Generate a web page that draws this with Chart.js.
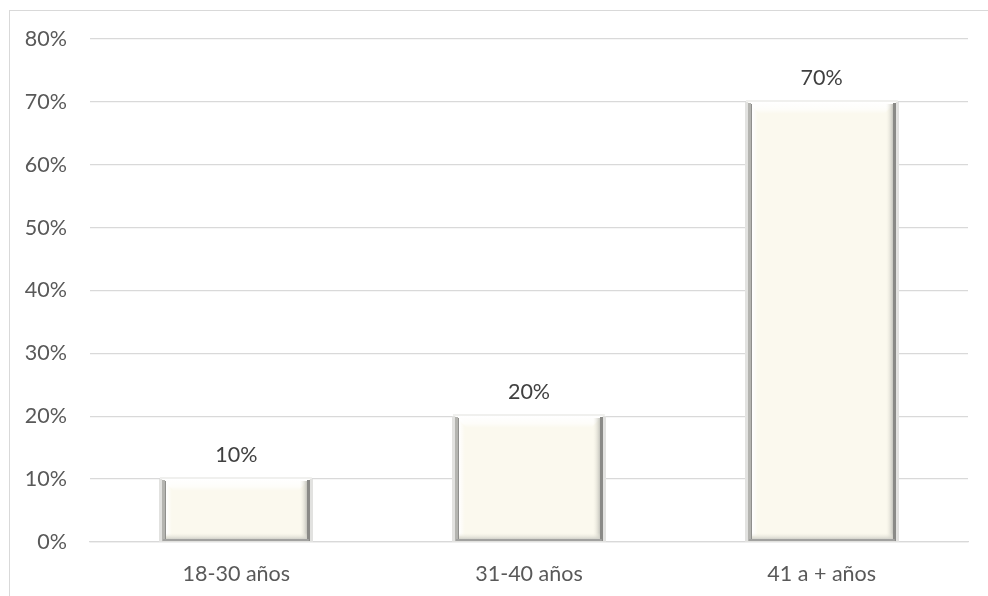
<!DOCTYPE html>
<html lang="es">
<head>
<meta charset="UTF-8">
<title>Edad</title>
<script src="https://cdn.jsdelivr.net/npm/chart.js@4/dist/chart.umd.min.js"></script>
<style>
    html, body { margin: 0; padding: 0; background: #fff; }
    .frame { position: absolute; left: 9px; top: 10px; width: 990px; height: 600px; border: 1px solid #d9d9d9; }
    #wrap { position: absolute; left: 0; top: 0; width: 988px; height: 596px; }
</style>
</head>
<body>
<div class="frame"></div>
<div id="wrap"><canvas id="chart" width="988" height="596"></canvas></div>
<script>
// data
const categories = ['18-30 años', '31-40 años', '41 a + años'];
const values = [10, 20, 70];
const yMax = 80;
const yStep = 10;

const FONT = "Lato, 'Open Sans', sans-serif";
const FSIZE = 21.5;

// bevel look for the bars (drawn on top of each bar element)
const bevelPlugin = {
    id: 'bevel',
    afterDatasetsDraw(chart) {
        const ctx = chart.ctx;
        chart.getDatasetMeta(0).data.forEach(bar => {
            const w = bar.width;
            const l = Math.round(bar.x - w / 2), r = Math.round(bar.x + w / 2);
            const t = Math.round(bar.y), b = Math.round(bar.base);
            const h = b - t;
            ctx.save();
            // outer soft shadow
            ctx.fillStyle = '#e2e2e0';
            ctx.fillRect(l - 3, t, 3, h + 1);
            ctx.fillRect(r, t, 3, h + 1);
            ctx.fillStyle = '#f0f0ee';
            ctx.fillRect(l - 2, t - 2, w + 4, 2);
            // top highlight
            let g = ctx.createLinearGradient(0, t, 0, t + 12);
            g.addColorStop(0, '#ffffff');
            g.addColorStop(0.6, 'rgba(255,255,255,0.7)');
            g.addColorStop(1, 'rgba(255,255,255,0)');
            ctx.fillStyle = g;
            ctx.beginPath();
            ctx.moveTo(l, t); ctx.lineTo(r, t);
            ctx.lineTo(r - 12, t + 12); ctx.lineTo(l + 12, t + 12);
            ctx.closePath(); ctx.fill();
            // left edge: gray line + white strip
            ctx.fillStyle = '#b4b4b0';
            ctx.fillRect(l, t + 1, 3, h - 1);
            ctx.fillStyle = '#8f8f8c';
            ctx.fillRect(l + 3, t + 2, 1, h - 3);
            g = ctx.createLinearGradient(l + 4, 0, l + 10, 0);
            g.addColorStop(0, '#ffffff');
            g.addColorStop(1, 'rgba(255,255,255,0)');
            ctx.fillStyle = g;
            ctx.fillRect(l + 4, t + 3, 6, h - 8);
            // right edge
            g = ctx.createLinearGradient(r - 10, 0, r - 3, 0);
            g.addColorStop(0, 'rgba(240,238,226,0)');
            g.addColorStop(1, '#c4c4bd');
            ctx.fillStyle = g;
            ctx.fillRect(r - 10, t + 2, 7, h - 4);
            ctx.fillStyle = '#8a8a87';
            ctx.fillRect(r - 3, t + 1, 3, h - 1);
            // bottom edge
            g = ctx.createLinearGradient(0, b - 8, 0, b - 2);
            g.addColorStop(0, 'rgba(240,238,226,0)');
            g.addColorStop(1, '#d2d2cb');
            ctx.fillStyle = g;
            ctx.fillRect(l + 4, b - 8, w - 7, 6);
            ctx.fillStyle = '#a2a2a0';
            ctx.fillRect(l + 1, b - 2, w - 2, 2);
            ctx.restore();
        });
    }
};

// value labels above each bar
const labelPlugin = {
    id: 'valueLabels',
    afterDatasetsDraw(chart) {
        const ctx = chart.ctx;
        ctx.save();
        ctx.font = FSIZE + 'px ' + FONT;
        ctx.fillStyle = '#404040';
        ctx.textAlign = 'center';
        ctx.textBaseline = 'middle';
        chart.getDatasetMeta(0).data.forEach((bar, i) => {
            ctx.fillText(values[i] + '%', bar.x, bar.y - 24);
        });
        ctx.restore();
    }
};

new Chart(document.getElementById('chart'), {
    type: 'bar',
    data: {
        labels: categories,
        datasets: [{
            data: values,
            backgroundColor: '#fbf9ee',
            borderWidth: 0,
            categoryPercentage: 1,
            barPercentage: 0.505
        }]
    },
    options: {
        responsive: false,
        animation: false,
        layout: { padding: { left: 10, right: 20, top: 39, bottom: 0 } },
        plugins: { legend: { display: false }, tooltip: { enabled: false } },
        scales: {
            y: {
                min: 0,
                max: yMax,
                ticks: {
                    stepSize: yStep,
                    padding: 23,
                    color: '#595959',
                    font: { family: FONT, size: FSIZE },
                    callback: v => v + '%'
                },
                grid: { color: '#d9d9d9', lineWidth: 1.3, drawTicks: false },
                border: { display: false },
                afterFit: s => { s.width = 80; }
            },
            x: {
                ticks: {
                    padding: 19,
                    color: '#595959',
                    font: { family: FONT, size: FSIZE }
                },
                grid: { display: false, drawTicks: false },
                border: { color: '#d9d9d9', width: 1.3 },
                afterFit: s => { s.height = 54; }
            }
        }
    },
    plugins: [bevelPlugin, labelPlugin]
});
</script>
</body>
</html>
